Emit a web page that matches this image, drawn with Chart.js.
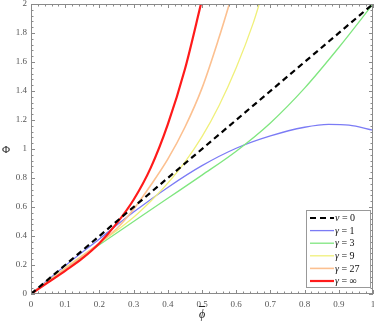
<!DOCTYPE html>
<html><head><meta charset="utf-8">
<script src="https://cdn.jsdelivr.net/npm/chart.js@4"></script>
<style>html,body{margin:0;padding:0;background:#fff}#wrap{width:374px;height:324px;position:relative}</style>
</head><body><div id="wrap"><canvas id="c"></canvas></div>
<script>
const xTicks = [0,0.1,0.2,0.3,0.4,0.5,0.6,0.7,0.8,0.9,1];
const yTicks = [0,0.2,0.4,0.6,0.8,1,1.2,1.4,1.6,1.8,2];
const labels = ["ν = 0","γ = 1","γ = 3","γ = 9","γ = 27","γ = ∞"];

const nu0X = [0,1];
const nu0Y = [0,2];
const g1X = [0,0.1,0.2,0.3,0.4,0.5,0.6,0.7,0.8,0.87,0.93,1.0];
const g1Y = [0,0.195,0.38,0.565,0.735,0.885,1.005,1.09,1.15,1.17,1.165,1.13];
const g3X = [0,0.1,0.2,0.3,0.4,0.5,0.6,0.7,0.8,0.9,1.0];
const g3Y = [0,0.175,0.34,0.50,0.66,0.82,0.985,1.18,1.42,1.70,2.0];
const g9X = [0,0.1,0.2,0.3,0.35,0.4,0.45,0.5,0.55,0.6,0.65,0.67];
const g9Y = [0,0.18,0.35,0.53,0.64,0.765,0.91,1.085,1.30,1.56,1.87,2.02];
const g27X = [0,0.1,0.2,0.25,0.3,0.35,0.4,0.45,0.5,0.55,0.58];
const g27Y = [0,0.175,0.35,0.45,0.585,0.75,0.93,1.15,1.42,1.77,2.0];
const ginfX = [0,0.05,0.1,0.15,0.2,0.25,0.3,0.35,0.4,0.45,0.5];
const ginfY = [0,0.08,0.16,0.245,0.35,0.485,0.65,0.87,1.17,1.55,2.03];

const colors = ["#000000","#7b7bf5","#7fe67f","#f0f07a","#fcc090","#ff1a1a"];
const widths = [2.2,1.3,1.3,1.3,1.6,2.2];

function pts(xs, ys){ return xs.map((x,i)=>({x:x,y:ys[i]})); }
const series = [[nu0X,nu0Y],[g1X,g1Y],[g3X,g3Y],[g9X,g9Y],[g27X,g27Y],[ginfX,ginfY]];

const datasets = series.map((s,i)=>({
  label: labels[i],
  data: pts(s[0], s[1]),
  borderColor: colors[i],
  borderWidth: widths[i],
  borderDash: i===0 ? [6,4] : [],
  showLine: true,
  pointRadius: 0,
  cubicInterpolationMode: 'monotone',
  fill: false,
  order: i===0 ? 0 : 10 - i
}));

const frameColor = "#8a8a8a";
const serif = "'Liberation Serif', 'DejaVu Serif', serif";

const framePlugin = {
  id: 'frame',
  afterDatasetsDraw(chart){
    const {ctx, chartArea:a, scales:{x, y}} = chart;
    ctx.save();
    ctx.strokeStyle = frameColor;
    ctx.lineWidth = 1;
    ctx.strokeRect(a.left+0.5, a.top+0.5, a.right-a.left-1, a.bottom-a.top-1);
    ctx.beginPath();
    for (let i=0;i<xTicks.length;i++){
      const v = xTicks[i];
      const px = Math.round(x.getPixelForValue(v))+0.5;
      ctx.moveTo(px, a.bottom); ctx.lineTo(px, a.bottom-4);
      ctx.moveTo(px, a.top); ctx.lineTo(px, a.top+4);
      if (i < xTicks.length-1){
        const step = (xTicks[i+1]-v)/5;
        for (let k=1;k<5;k++){
          const mx = Math.round(x.getPixelForValue(v+k*step))+0.5;
          ctx.moveTo(mx, a.bottom); ctx.lineTo(mx, a.bottom-2.5);
          ctx.moveTo(mx, a.top); ctx.lineTo(mx, a.top+2.5);
        }
      }
    }
    for (let i=0;i<yTicks.length;i++){
      const v = yTicks[i];
      const py = Math.round(y.getPixelForValue(v))+0.5;
      ctx.moveTo(a.left, py); ctx.lineTo(a.left+4, py);
      ctx.moveTo(a.right, py); ctx.lineTo(a.right-4, py);
      if (i < yTicks.length-1){
        const step = (yTicks[i+1]-v)/5;
        for (let k=1;k<5;k++){
          const my = Math.round(y.getPixelForValue(v+k*step))+0.5;
          ctx.moveTo(a.left, my); ctx.lineTo(a.left+2.5, my);
          ctx.moveTo(a.right, my); ctx.lineTo(a.right-2.5, my);
        }
      }
    }
    ctx.stroke();

    // legend
    const bx = 306, by = 210, bw = 64, bh = 77;
    ctx.fillStyle = "#fff";
    ctx.fillRect(bx, by, bw, bh);
    ctx.strokeStyle = "#999";
    ctx.strokeRect(bx+0.5, by+0.5, bw, bh);
    const rowH = 12.6;
    chart.data.datasets.forEach((d,i)=>{
      const cy = by + 8 + i*rowH;
      ctx.beginPath();
      ctx.strokeStyle = d.borderColor;
      ctx.lineWidth = d.borderWidth;
      ctx.setLineDash(d.borderDash);
      ctx.moveTo(bx+4, cy); ctx.lineTo(bx+28, cy);
      ctx.stroke();
      ctx.setLineDash([]);
      ctx.fillStyle = "#111";
      ctx.textBaseline = "middle";
      ctx.textAlign = "left";
      const parts = d.label.split(" = ");
      ctx.font = "italic 10px " + serif;
      ctx.fillText(parts[0], bx+29, cy+0.5);
      const w0 = ctx.measureText(parts[0]).width;
      ctx.font = "10px " + serif;
      ctx.fillText(" = " + parts[1], bx+29+w0, cy+0.5);
    });

    // axis titles
    ctx.fillStyle = "#222";
    ctx.font = "11px " + serif;
    ctx.textAlign = "center";
    ctx.textBaseline = "middle";
    ctx.fillText("Φ", 6, 150);
    ctx.font = "italic 12px " + serif;
    const cx = (a.left+a.right)/2;
    ctx.fillText("ϕ", cx, 315);
    ctx.lineWidth = 1;
    ctx.strokeStyle = "#222";
    ctx.beginPath();
    ctx.moveTo(cx-3, 306.5); ctx.lineTo(cx+3, 306.5);
    ctx.stroke();
    ctx.restore();
  }
};

new Chart(document.getElementById('c'), {
  type: 'scatter',
  data: { datasets: datasets },
  options: {
    responsive: true,
    maintainAspectRatio: false,
    animation: false,
    layout: { padding: { top: 4, right: 1, left: 0, bottom: 0 } },
    plugins: { legend: { display: false }, tooltip: { enabled: false } },
    scales: {
      x: {
        type: 'linear', min: 0, max: 1,
        afterBuildTicks(s){ s.ticks = xTicks.map(v=>({value:v})); },
        afterFit(s){ s.height = 30; s.paddingRight = 0; s.paddingLeft = 0; },
        grid: { display: false, drawTicks: false },
        border: { display: false },
        ticks: {
          padding: 5, color: "#555", maxRotation: 0, autoSkip: false,
          font: { family: serif, size: 9 },
          callback: v => String(v)
        }
      },
      y: {
        type: 'linear', min: 0, max: 2,
        afterBuildTicks(s){ s.ticks = yTicks.map(v=>({value:v})); },
        afterFit(s){ s.width = 31; s.paddingTop = 0; s.paddingBottom = 0; },
        grid: { display: false, drawTicks: false },
        border: { display: false },
        ticks: {
          padding: 4, color: "#555", autoSkip: false,
          font: { family: serif, size: 9 },
          callback: v => String(v)
        }
      }
    }
  },
  plugins: [framePlugin]
});
</script></body></html>
